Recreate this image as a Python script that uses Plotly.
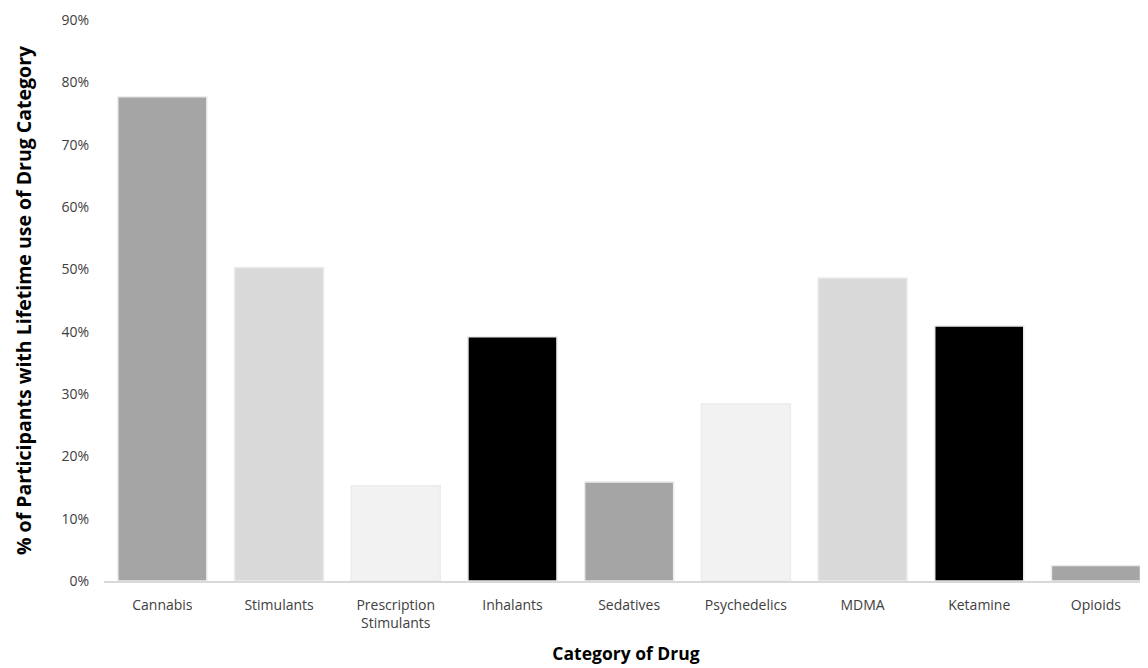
import plotly.graph_objects as go

categories = ["Cannabis", "Stimulants", "Prescription<br>Stimulants", "Inhalants", "Sedatives",
              "Psychedelics", "MDMA", "Ketamine", "Opioids"]
values = [0.777, 0.503, 0.153, 0.392, 0.159, 0.284, 0.486, 0.409, 0.025]
colors = ["#a5a5a5", "#d9d9d9", "#f2f2f2", "#000000", "#a5a5a5",
          "#f2f2f2", "#d9d9d9", "#000000", "#a5a5a5"]
tick_vals = [0, 0.1, 0.2, 0.3, 0.4, 0.5, 0.6, 0.7, 0.8, 0.9]

FONT = "Open Sans"

fig = go.Figure(go.Bar(
    x=categories, y=values,
    marker=dict(color=colors, line=dict(color="#ececec", width=1.5)),
    hoverinfo="skip",
))

fig.update_layout(
    width=1140, height=660,
    margin=dict(l=96, r=0, t=12, b=87),
    paper_bgcolor="white", plot_bgcolor="white",
    bargap=0.237,
    showlegend=False,
    font=dict(family=FONT, size=13, color="#595959"),
    xaxis=dict(
        range=[-0.5, 8.446],
        showline=True, linecolor="#d9d9d9", linewidth=1.5,
        tickfont=dict(size=14, color="#404040"),
        ticks="outside", ticklen=10, tickcolor="rgba(0,0,0,0)",
        title=dict(text="<b>Category of Drug</b>", font=dict(size=17.5, color="#000000"), standoff=17),
    ),
    yaxis=dict(
        range=[0, 0.9], tickvals=tick_vals, tickformat=".0%",
        showgrid=False, zeroline=False, showline=False,
        tickfont=dict(size=14, color="#404040"),
        ticks="outside", ticklen=11, tickcolor="rgba(0,0,0,0)",
        title=dict(text="<b>% of Participants with Lifetime use of Drug Category</b>",
                   font=dict(size=19.5, color="#000000"), standoff=24),
    ),
)

fig.write_html("out.html")
